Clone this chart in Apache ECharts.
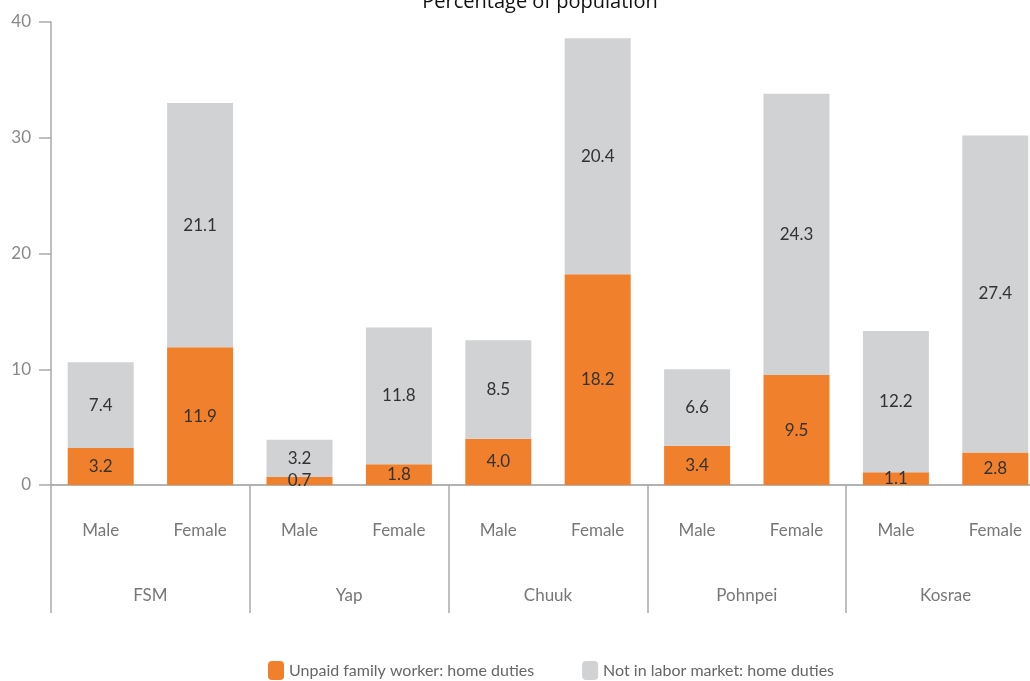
<!DOCTYPE html>
<html><head><meta charset="utf-8">
<script src="https://cdn.jsdelivr.net/npm/echarts@6/dist/echarts.min.js"></script>
<style>html,body{margin:0;padding:0;background:#fff}#c{width:1030px;height:681px}</style>
</head><body><div id="c"></div>
<script>
const sexes = ['Male','Female','Male','Female','Male','Female','Male','Female','Male','Female'];
const regions = ['FSM','Yap','Chuuk','Pohnpei','Kosrae'];
const unpaid = [3.2, 11.9, 0.7, 1.8, 4.0, 18.2, 3.4, 9.5, 1.1, 2.8];
const notInLabor = [7.4, 21.1, 3.2, 11.8, 8.5, 20.4, 6.6, 24.3, 12.2, 27.4];
const yTicks = [0, 10, 20, 30, 40];

const font = 'Lato, "Open Sans", sans-serif';
const chart = echarts.init(document.getElementById('c'));
const lbl = {show:true, position:'inside', color:'#333', fontSize:17, fontFamily:font,
  formatter: p => p.value.toFixed(1)};
chart.setOption({
  animation:false,
  title:{text:'Percentage of population', left:535, textAlign:'center', top:-13,
    textStyle:{fontFamily:'"Open Sans", sans-serif', fontWeight:'normal', fontSize:20, color:'#111'}},
  grid:{left:51, top:22, right:-15, bottom:196, containLabel:false, outerBoundsMode:'none'},
  legend:{left:263, top:656, itemWidth:16, itemHeight:19, itemGap:48,
    textStyle:{fontFamily:font, fontSize:16, color:'#666'},
    data:['Unpaid family worker: home duties','Not in labor market: home duties']},
  xAxis:[
    {type:'category', data:sexes, position:'bottom',
      axisLine:{show:true, lineStyle:{color:'#999', width:1.5}},
      axisTick:{show:false},
      axisLabel:{color:'#777', fontSize:17, fontFamily:font, margin:37}},
    {type:'category', data:regions, position:'bottom', boundaryGap:true,
      axisLine:{show:false},
      axisTick:{show:true, length:128, interval:0, lineStyle:{color:'#aaa', width:1.5}},
      axisLabel:{color:'#777', fontSize:17, fontFamily:font, margin:102}}
  ],
  yAxis:{type:'value', min:yTicks[0], max:yTicks[yTicks.length-1], interval:10,
    axisLine:{show:true, lineStyle:{color:'#aaa', width:1.5}},
    axisTick:{show:true, length:12, lineStyle:{color:'#aaa', width:1.5}},
    splitLine:{show:false},
    axisLabel:{color:'#888', fontSize:17, fontFamily:font, margin:20}},
  series:[
    {name:'Unpaid family worker: home duties', type:'bar', stack:'a', data:unpaid,
      barWidth:66, itemStyle:{color:'#F0802C'}, label:lbl},
    {name:'Not in labor market: home duties', type:'bar', stack:'a', data:notInLabor,
      barWidth:66, itemStyle:{color:'#D1D2D4'}, label:lbl}
  ]
});
</script></body></html>
